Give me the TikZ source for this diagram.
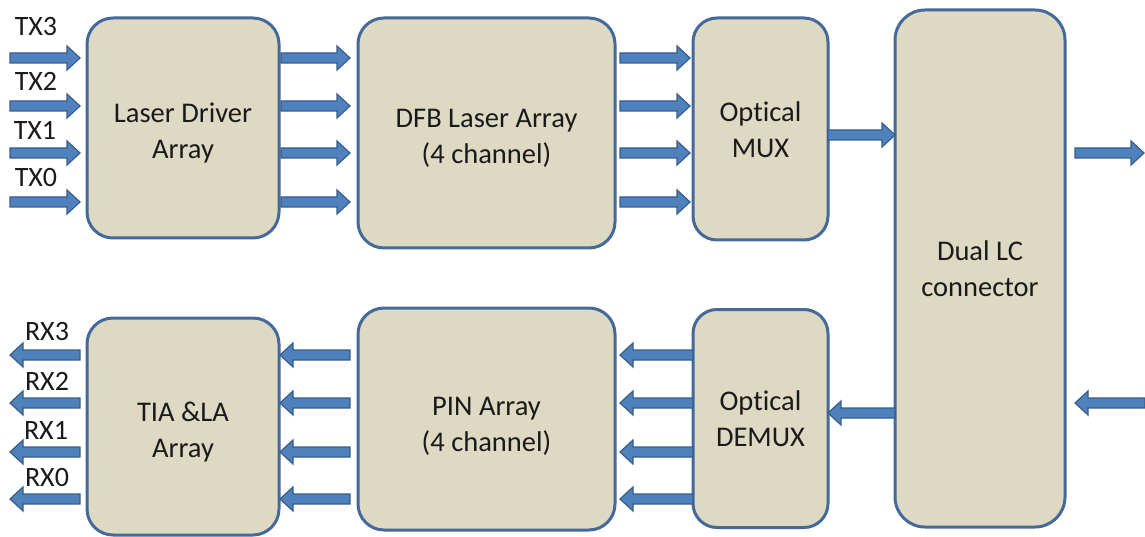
\documentclass[tikz,border=0pt]{standalone}
\usepackage{fontspec}
\setmainfont{Carlito}[Ligatures=NoCommon]
\usetikzlibrary{calc}
\definecolor{boxfill}{HTML}{DDD9C3}
\definecolor{boxline}{HTML}{44699A}
\definecolor{arrfill}{HTML}{4F81BD}
\definecolor{arrline}{HTML}{385D8A}
\definecolor{txt}{HTML}{1A1A1A}
\begin{document}
\begin{tikzpicture}[x=1pt,y=-1pt,
  box/.style={draw=boxline, fill=boxfill, line width=3pt, rounded corners=26pt,
    inner sep=0pt, outer sep=0pt},
  boxtext/.style={align=center, text=txt, font=\fontsize{28.5}{36}\selectfont, inner sep=0pt},
  fat/.style={fill=arrfill, draw=arrline, line width=1.2pt, line join=miter,
    to path={let \p1=(\tikztostart), \p2=(\tikztotarget), \n1={sign(\x2-\x1)} in
      (\x1,\y1+5pt) -- (\x2-\n1*13pt,\y1+5pt) -- (\x2-\n1*13pt,\y1+12pt) -- (\x2,\y1)
      -- (\x2-\n1*13pt,\y1-12pt) -- (\x2-\n1*13pt,\y1-5pt) -- (\x1,\y1-5pt) -- cycle}},
  lbl/.style={text=txt, font=\fontsize{28}{30}\selectfont, inner sep=0pt}]
\useasboundingbox (0,0) rectangle (1145,537);

% boxes
\node[box, minimum width=192pt, minimum height=220pt,
  label={[boxtext, yshift=-4.5pt]center:{Laser Driver\\Array}}] (ld) at (183,128) {};
\node[box, minimum width=257pt, minimum height=230pt,
  label={[boxtext, yshift=-5.5pt]center:{DFB Laser Array\\(4 channel)}}] (dfb) at (486.5,133) {};
\node[box, minimum width=135pt, minimum height=222pt, rounded corners=24pt,
  label={[boxtext, yshift=-0.5pt]center:{Optical\\MUX}}] (mux) at (760.5,129) {};
\node[box, minimum width=170pt, minimum height=517pt, rounded corners=30pt,
  label={[boxtext, yshift=-0.5pt]center:{Dual LC\\connector}}] (lc) at (980,268.5) {};
\node[box, minimum width=192pt, minimum height=217pt,
  label={[boxtext, yshift=-6pt]center:{TIA \&LA\\Array}}] (tia) at (183,426.5) {};
\node[box, minimum width=257pt, minimum height=222pt,
  label={[boxtext, yshift=-7.5pt]center:{PIN Array\\(4 channel)}}] (pin) at (486.5,419) {};
\node[box, minimum width=135pt, minimum height=218pt, rounded corners=24pt,
  label={[boxtext, yshift=-0.5pt]center:{Optical\\DEMUX}}] (demux) at (760.5,418.5) {};

% free ends
\coordinate (tx3) at (10,58);
\coordinate (tx2) at (10,106);
\coordinate (tx1) at (10,153);
\coordinate (tx0) at (10,202);
\coordinate (rx3) at (10,355);
\coordinate (rx2) at (10,403);
\coordinate (rx1) at (10,452);
\coordinate (rx0) at (10,499);
\coordinate (mo) at (828,135);
\coordinate (out) at (1144,153);
\coordinate (in) at (1145,403);
\coordinate (di) at (828,413);

% labels
\node[lbl] (ltx3) at (36,27) {TX3};
\node[lbl] (ltx2) at (36,81) {TX2};
\node[lbl] (ltx1) at (35,130) {TX1};
\node[lbl] (ltx0) at (36,178) {TX0};
\node[lbl] (lrx3) at (47,332) {RX3};
\node[lbl] (lrx2) at (47,381) {RX2};
\node[lbl] (lrx1) at (46,430) {RX1};
\node[lbl] (lrx0) at (47,478) {RX0};

% TX arrows
\foreach \t in {tx3,tx2,tx1,tx0}{
  \draw[fat] (\t) to ($(\t -| ld.west)+(-7,0)$);
  \draw[fat] ($(ld.east |- \t)+(2,0)$) to ($(dfb.west |- \t)+(-8,0)$);
  \draw[fat] ($(dfb.east |- \t)+(5,0)$) to ($(mux.west |- \t)+(-3,0)$);
}
\draw[fat] (mo) to (mo -| lc.west);
\draw[fat] ($(lc.east |- out)+(10,0)$) to (out);

% RX arrows
\foreach \r in {rx3,rx2,rx1,rx0}{
  \draw[fat] ($(\r -| tia.west)+(-7,0)$) to (\r);
  \draw[fat] ($(pin.west |- \r)+(-8,0)$) to ($(tia.east |- \r)+(1,0)$);
  \draw[fat] (demux.west |- \r) to ($(pin.east |- \r)+(5,0)$);
}
\draw[fat] (lc.west |- di) to (di);
\draw[fat] (in) to ($(lc.east |- in)+(10,0)$);
\end{tikzpicture}
\end{document}
